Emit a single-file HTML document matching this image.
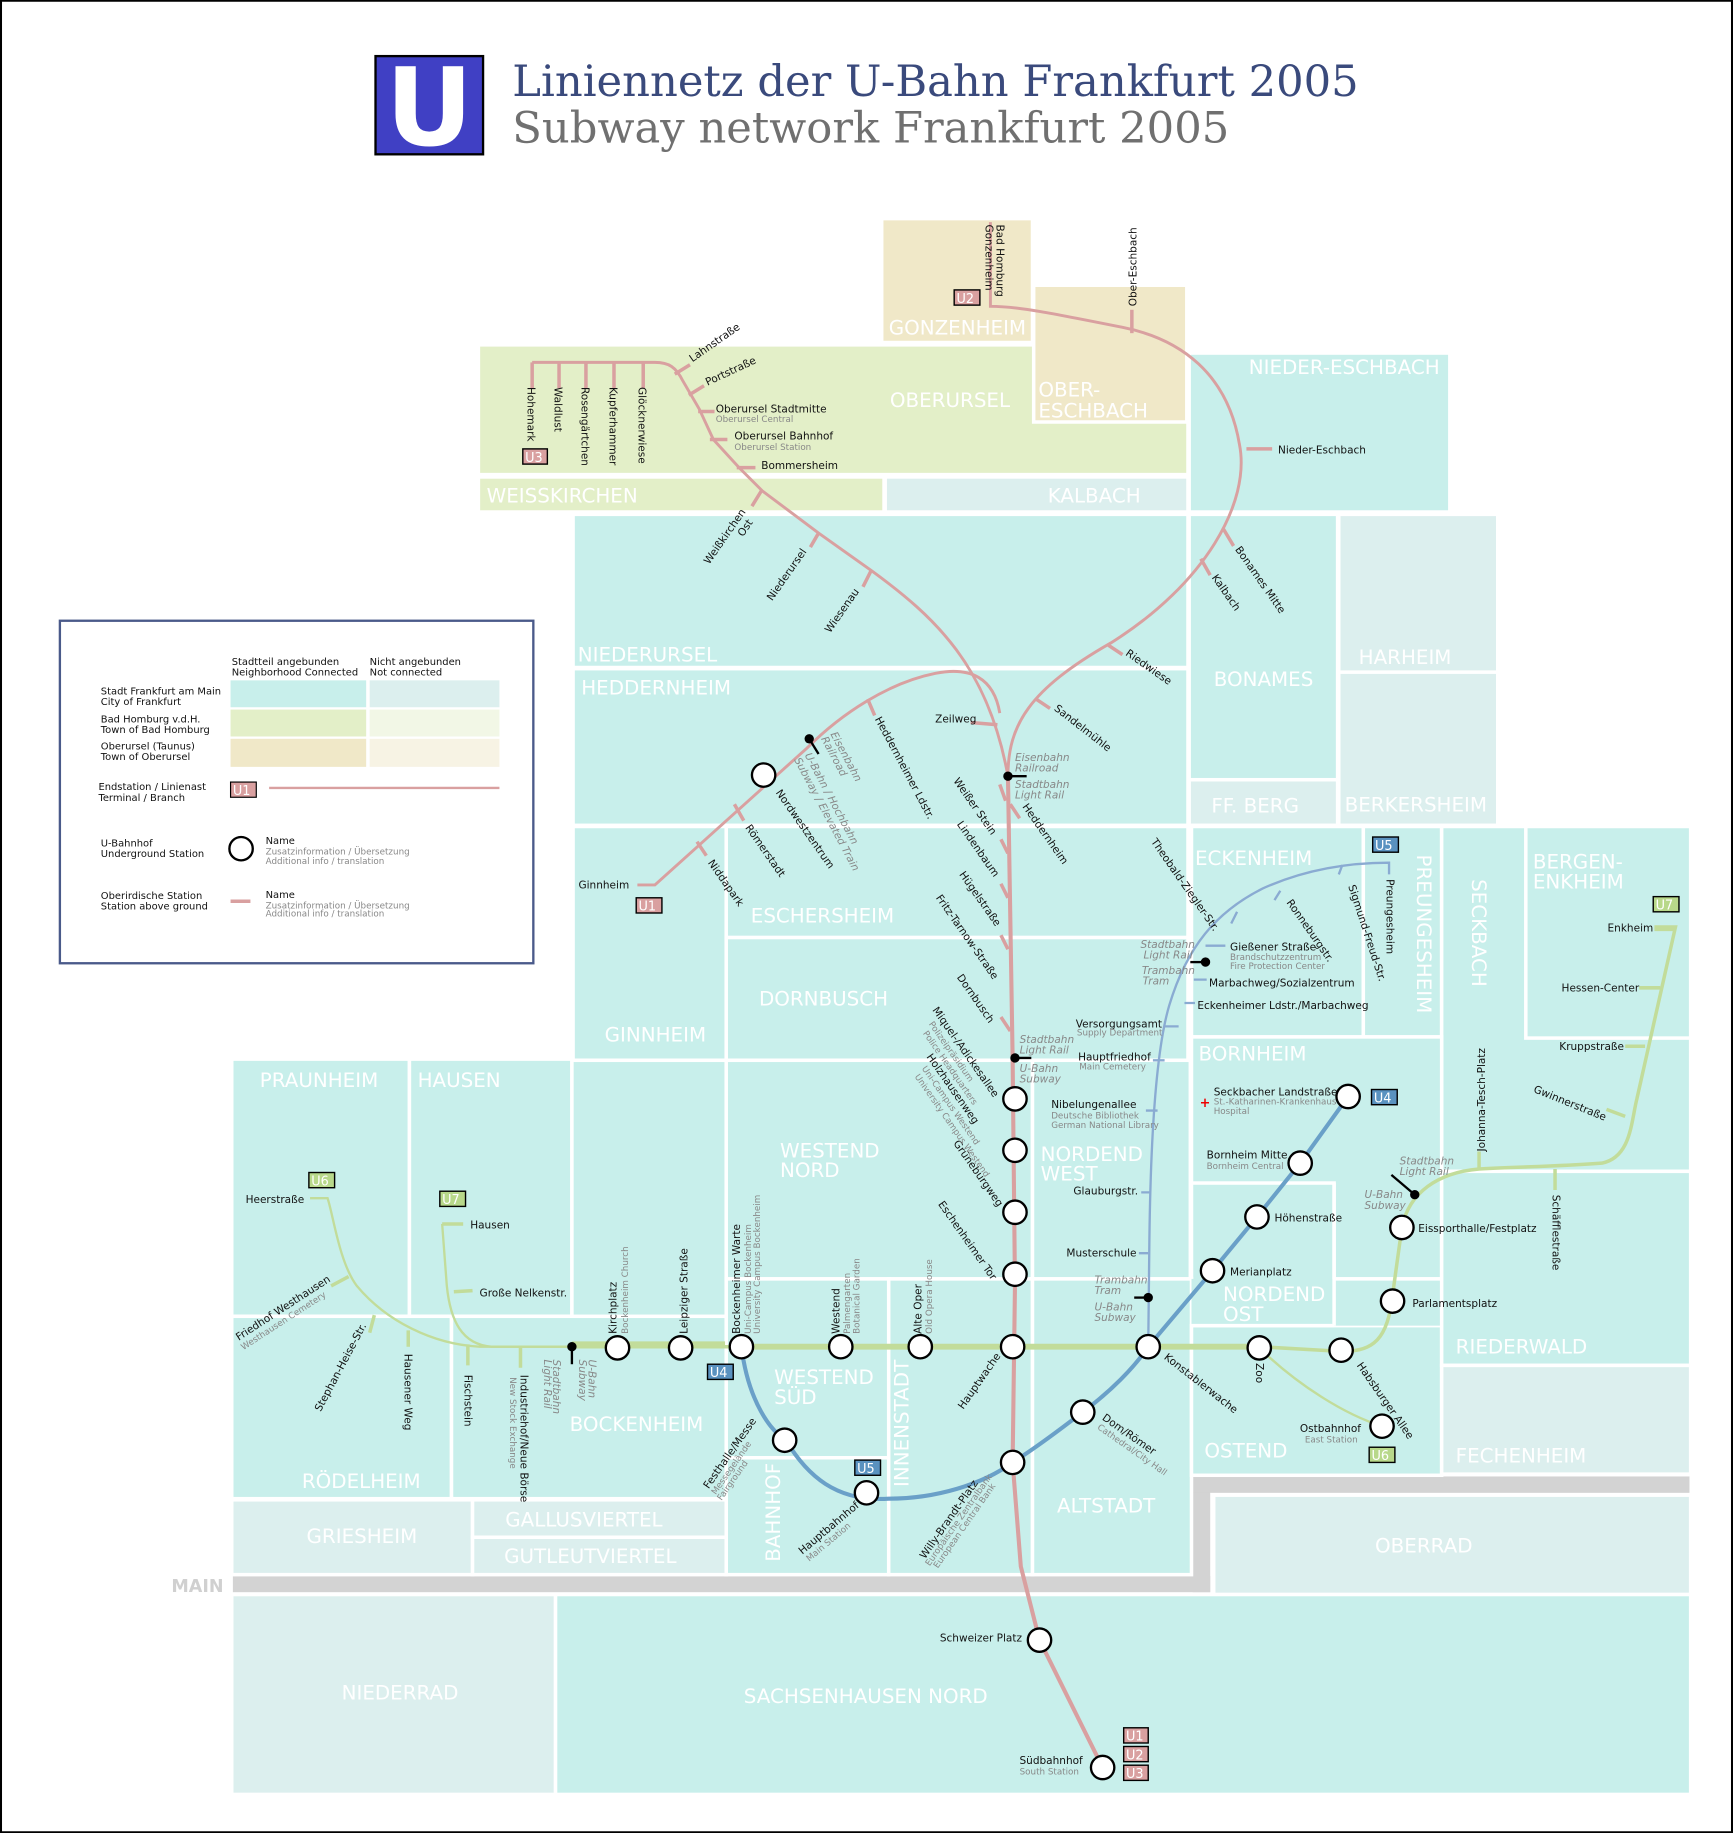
<!DOCTYPE html>
<html><head><meta charset="utf-8"><style>
html,body{margin:0;padding:0;background:#fff}
svg{display:block}
text{font-family:"DejaVu Sans","Liberation Sans",sans-serif}
.d{fill:#fff;font-size:17px}
.l{font-size:9px;fill:#111}
.s{font-size:7.5px;fill:#888}
.i{font-size:9px;fill:#888;font-style:italic}
.c{fill:#c8efeb;stroke:#fff;stroke-width:3}
.n{fill:#dcefee;stroke:#fff;stroke-width:3}
.g{fill:#e3efc8;stroke:#fff;stroke-width:3}
.t{fill:#f0e8c8;stroke:#fff;stroke-width:3}
.st{fill:#fff;stroke:#000;stroke-width:2}
.bt{font-size:11px;fill:#fff}
</style></head><body>
<svg width="1733" height="1833" viewBox="0 0 1482 1568" xmlns="http://www.w3.org/2000/svg">
<rect x="0.5" y="0.5" width="1481" height="1567" fill="#fff" stroke="#000" stroke-width="2"/>
<rect x="321" y="48" width="92" height="84" fill="#4040c4" stroke="#000" stroke-width="2"/>
<text x="367" y="124" text-anchor="middle" style="font-family:'DejaVu Sans',sans-serif;font-weight:bold;font-size:92px;fill:#fff">U</text>
<text x="438" y="82" style="font-family:'DejaVu Serif','Liberation Serif',serif;font-size:37px;fill:#3a4a7c">Liniennetz der U-Bahn Frankfurt 2005</text>
<text x="438" y="122" style="font-family:'DejaVu Serif','Liberation Serif',serif;font-size:37px;fill:#707070">Subway network Frankfurt 2005</text>

<rect x="199" y="1348" width="836" height="14" fill="#d3d3d3"/>
<rect x="1020" y="1263" width="15" height="99" fill="#d3d3d3"/>
<rect x="1020" y="1263" width="425" height="14" fill="#d3d3d3"/>
<text x="191" y="1362" text-anchor="end" style="font-size:15px;font-weight:bold;fill:#d0d0d0">MAIN</text>

<rect class="t" x="754" y="187" width="129" height="106"/>
<rect class="g" x="409" y="295" width="607" height="111"/>
<rect class="t" x="884" y="244" width="131" height="117"/>
<rect class="c" x="1017" y="302" width="223" height="136"/>
<rect class="g" x="409" y="408" width="347" height="30"/>
<rect class="n" x="757" y="408" width="259" height="30"/>
<rect class="c" x="490" y="440" width="526" height="131"/>
<rect class="c" x="1017" y="440" width="127" height="227"/>
<rect class="n" x="1145" y="440" width="136" height="135"/>
<rect class="c" x="490" y="572" width="526" height="134"/>
<rect class="n" x="1017" y="667" width="127" height="39"/>
<rect class="n" x="1145" y="575" width="136" height="131"/>
<rect class="c" x="490" y="707" width="131" height="200"/>
<rect class="c" x="621" y="707" width="395" height="95"/>
<rect class="c" x="621" y="802" width="395" height="105"/>
<rect class="c" x="1019" y="707" width="147" height="180"/>
<rect class="c" x="1166" y="707" width="67" height="180"/>
<rect class="c" x="1233" y="707" width="213" height="295"/>
<rect class="c" x="1305" y="707" width="141" height="181"/>
<rect class="c" x="1019" y="887" width="214" height="207"/>
<rect class="c" x="1019" y="1012" width="122" height="122"/>
<rect class="c" x="198" y="906" width="152" height="220"/>
<rect class="c" x="350" y="906" width="139" height="220"/>
<rect class="c" x="489" y="907" width="132" height="220"/>
<rect class="c" x="621" y="907" width="262" height="187"/>
<rect class="c" x="883" y="907" width="135" height="187"/>
<rect class="c" x="198" y="1126" width="188" height="156"/>
<rect class="c" x="386" y="1126" width="235" height="156"/>
<rect class="c" x="621" y="1094" width="139" height="153"/>
<rect class="c" x="621" y="1247" width="139" height="100"/>
<rect class="c" x="760" y="1094" width="123" height="253"/>
<rect class="c" x="883" y="1094" width="136" height="253"/>
<rect class="c" x="1019" y="1134" width="214" height="128"/>
<rect class="c" x="1019" y="1094" width="214" height="40" style="stroke:none"/>
<rect class="c" x="1233" y="1002" width="213" height="166"/>
<rect class="n" x="1233" y="1168" width="213" height="93"/>
<rect class="n" x="198" y="1283" width="206" height="64"/>
<rect class="n" x="404" y="1283" width="217" height="32"/>
<rect class="n" x="404" y="1315" width="217" height="32"/>
<rect class="n" x="1038" y="1279" width="408" height="85"/>
<rect class="n" x="198" y="1364" width="277" height="171"/>
<rect class="c" x="475" y="1364" width="971" height="171"/>
<line x1="1019" y1="1134" x2="1141" y2="1134" stroke="#fff" stroke-width="3"/>
<line x1="1141" y1="1012" x2="1141" y2="1134" stroke="#fff" stroke-width="3"/>
<line x1="1141" y1="1094" x2="1233" y2="1094" stroke="#fff" stroke-width="3"/>

<text class="d" x="760" y="286">GONZENHEIM</text>
<text class="d" x="761" y="348">OBERURSEL</text>
<text class="d" x="888" y="339">OBER-</text><text class="d" x="888" y="357">ESCHBACH</text>
<text class="d" x="1068" y="320">NIEDER-ESCHBACH</text>
<text class="d" x="416" y="430">WEISSKIRCHEN</text>
<text class="d" x="896" y="430">KALBACH</text>
<text class="d" x="494" y="566">NIEDERURSEL</text>
<text class="d" x="497" y="594">HEDDERNHEIM</text>
<text class="d" x="1038" y="587">BONAMES</text>
<text class="d" x="1162" y="568">HARHEIM</text>
<text class="d" x="1036" y="695">FF. BERG</text>
<text class="d" x="1150" y="694">BERKERSHEIM</text>
<text class="d" x="642" y="789">ESCHERSHEIM</text>
<text class="d" x="649" y="860">DORNBUSCH</text>
<text class="d" x="517" y="891">GINNHEIM</text>
<text class="d" x="1022" y="740">ECKENHEIM</text>
<text class="d" x="1212" y="731" transform="rotate(90 1212 731)">PREUNGESHEIM</text>
<text class="d" x="1259" y="752" transform="rotate(90 1259 752)">SECKBACH</text>
<text class="d" x="1311" y="743">BERGEN-</text><text class="d" x="1311" y="760">ENKHEIM</text>
<text class="d" x="1025" y="907">BORNHEIM</text>
<text class="d" x="222" y="930">PRAUNHEIM</text>
<text class="d" x="357" y="930">HAUSEN</text>
<text class="d" x="667" y="990">WESTEND</text><text class="d" x="667" y="1007">NORD</text>
<text class="d" x="890" y="993">NORDEND</text><text class="d" x="890" y="1010">WEST</text>
<text class="d" x="1046" y="1113">NORDEND</text><text class="d" x="1046" y="1130">OST</text>
<text class="d" x="662" y="1184">WESTEND</text><text class="d" x="662" y="1201">SÜD</text>
<text class="d" x="487" y="1224">BOCKENHEIM</text>
<text class="d" x="258" y="1273">RÖDELHEIM</text>
<text class="d" x="1030" y="1247">OSTEND</text>
<text class="d" x="1245" y="1158">RIEDERWALD</text>
<text class="d" x="1245" y="1251">FECHENHEIM</text>
<text class="d" x="904" y="1294">ALTSTADT</text>
<text class="d" x="777" y="1272" transform="rotate(-90 777 1272)">INNENSTADT</text>
<text class="d" x="667" y="1336" transform="rotate(-90 667 1336)">BAHNHOF</text>
<text class="d" x="262" y="1320">GRIESHEIM</text>
<text class="d" x="432" y="1306">GALLUSVIERTEL</text>
<text class="d" x="431" y="1337">GUTLEUTVIERTEL</text>
<text class="d" x="1176" y="1328">OBERRAD</text>
<text class="d" x="292" y="1454">NIEDERRAD</text>
<text class="d" x="636" y="1457">SACHSENHAUSEN NORD</text>

<rect x="51" y="531" width="405" height="293" fill="#fff" stroke="#4a5a8a" stroke-width="2"/>
<text class="l" x="198" y="569" style="font-size:8.5px">Stadtteil angebunden</text>
<text class="l" x="198" y="578" style="font-size:8.5px">Neighborhood Connected</text>
<text class="l" x="316" y="569" style="font-size:8.5px">Nicht angebunden</text>
<text class="l" x="316" y="578" style="font-size:8.5px">Not connected</text>
<rect x="197" y="582" width="116" height="23" fill="#c8efeb"/><rect x="316" y="582" width="111" height="23" fill="#dcefee"/>
<rect x="197" y="607" width="116" height="23" fill="#e3efc8"/><rect x="316" y="607" width="111" height="23" fill="#f2f7e6"/>
<rect x="197" y="632" width="116" height="24" fill="#f0e8c8"/><rect x="316" y="632" width="111" height="24" fill="#f7f3e4"/>
<g class="l" style="font-size:8.5px">
<text x="86" y="594">Stadt Frankfurt am Main</text><text x="86" y="603">City of Frankfurt</text>
<text x="86" y="618">Bad Homburg v.d.H.</text><text x="86" y="627">Town of Bad Homburg</text>
<text x="86" y="641">Oberursel (Taunus)</text><text x="86" y="650">Town of Oberursel</text>
<text x="84" y="676">Endstation / Linienast</text><text x="84" y="685">Terminal / Branch</text>
<text x="86" y="724">U-Bahnhof</text><text x="86" y="733">Underground Station</text>
<text x="86" y="769">Oberirdische Station</text><text x="86" y="778">Station above ground</text>
<text x="227" y="722">Name</text><text x="227" y="768">Name</text>
</g>
<text class="s" x="227" y="731">Zusatzinformation / Übersetzung</text><text class="s" x="227" y="739">Additional info / translation</text>
<text class="s" x="227" y="777">Zusatzinformation / Übersetzung</text><text class="s" x="227" y="784">Additional info / translation</text>
<rect x="197" y="669" width="22" height="13" fill="#d9a0a0" stroke="#000"/><text class="bt" x="199" y="680">U1</text>
<line x1="230" y1="674" x2="427" y2="674" stroke="#d9a0a0" stroke-width="2"/>
<circle class="st" cx="206" cy="726" r="10"/>
<line x1="197" y1="771" x2="214" y2="771" stroke="#d9a0a0" stroke-width="3"/>

<g fill="none" stroke="#d9a0a0">
<path d="M455,310 L560,310 C572,310 578,314 584,326 L598,350 L610,376 L632,400 L652,420 L700,456 L745,488 C800,528 845,570 862,664" stroke-width="2.5"/>
<path d="M455,310 V332 M478,310 V332 M501,310 V332 M525,310 V332 M550,310 V332" stroke-width="3"/>
<path d="M862,664 C862,620 880,590 950,550 C1030,500 1070,430 1060,380 C1050,320 1010,290 960,280 C900,268 870,262 847,262 V190" stroke-width="2.5"/>
<path d="M968,265 V285" stroke-width="3"/>
<path d="M855,610 C850,580 830,570 800,576 C760,584 720,610 690,640 L560,757 H545" stroke-width="2.5"/>
<path d="M862,664 L866,905 L868,1100 L866,1251 L873,1340 L889,1403 L943,1512" stroke-width="3.5"/>
<path d="M577,320 L590,312 M589,338 L602,330 M597,352 L611,352 M607,376 L622,376 M630,400 L646,400 M651,420 L643,433 M700,456 L693,468 M745,488 L738,502 M1066,384 L1088,384 M1046,452 L1055,467 M1027,478 L1035,492 M948,552 L960,560 M886,598 L898,606 M830,618 L853,620 M742,598 L748,612 M628,688 L636,702 M596,720 L604,732 M864,688 L872,700 M855,671 L860,685 M856,718 L862,730 M856,756 L862,768 M856,800 L862,812 M856,870 L864,882" stroke-width="3"/>
</g>
<g fill="none">
<path d="M634,1152 C640,1200 660,1225 672,1232 C690,1262 715,1285 760,1282 C800,1282 840,1270 866,1251 C890,1236 910,1220 926,1208 C950,1190 970,1170 982,1152 L1037,1087 L1075,1041 L1112,995 L1153,938" stroke="#6aa0c8" stroke-width="3.5"/>
<path d="M982,1152 L983,1060 C984,980 988,900 1000,860 C1015,810 1040,780 1080,760 C1120,742 1160,738 1188,738 V748" stroke="#8aabd2" stroke-width="2"/>
<path d="M1053,790 L1058,780 M1090,770 L1095,762 M1145,748 L1148,740 M1031,809 L1048,809 M1021,838 L1032,838 M1013,858 L1022,858 M996,878 L1008,878 M986,907 L996,907 M980,950 L990,950 M976,1020 L984,1020 M974,1072 L982,1072" stroke="#8aabd2" stroke-width="2"/>
</g>
<g fill="none" stroke="#c2dc9a">
<path d="M489,1152 L1077,1152 L1147,1156 C1170,1156 1185,1150 1190,1115 L1199,1050 C1205,1020 1230,1003 1265,1000 C1300,998 1330,998 1370,995 C1395,990 1395,960 1400,940 L1433,793 H1415" stroke-width="3"/>
<path d="M489,1152 H420 C395,1150 385,1130 382,1100 L378,1047" stroke-width="2"/>
<path d="M489,1152 H410 C370,1150 330,1130 305,1100 C290,1080 285,1040 280,1025 H265" stroke-width="2"/>
<path d="M1077,1153 C1110,1185 1150,1210 1182,1220" stroke-width="2"/>
<path d="M489,1150 H620" stroke-width="5"/>
<path d="M634,1152 H1077" stroke-width="5"/>
<path d="M378,1047 H396 M388,1105 L404,1104 M283,1100 L298,1092 M320,1125 L316,1140 M349,1138 V1152 M400,1150 V1168 M445,1152 V1170 M1265,985 V1001 M1330,1000 V1018 M1374,949 L1390,955 M1390,895 H1407 M1402,845 H1420 M1415,795 H1433" stroke-width="3"/>
</g>
<g stroke="#000" stroke-width="2">
<line x1="692" y1="632" x2="700" y2="645"/><line x1="862" y1="664" x2="878" y2="664"/><line x1="868" y1="905" x2="882" y2="905"/>
<line x1="1031" y1="823" x2="1018" y2="823"/><line x1="982" y1="1110" x2="970" y2="1110"/><line x1="1210" y1="1022" x2="1190" y2="1005"/><line x1="489" y1="1152" x2="489" y2="1167"/>
</g>
<g fill="#000"><circle cx="692" cy="632" r="4"/><circle cx="862" cy="664" r="4"/><circle cx="868" cy="905" r="4"/><circle cx="1031" cy="823" r="4"/><circle cx="982" cy="1110" r="4"/><circle cx="1210" cy="1022" r="4"/><circle cx="489" cy="1152" r="4"/></g>

<g class="st">
<circle cx="653" cy="663" r="10"/>
<circle cx="868" cy="940" r="10"/><circle cx="868" cy="984" r="10"/><circle cx="868" cy="1037" r="10"/><circle cx="868" cy="1090" r="10"/>
<circle cx="866" cy="1152" r="10"/><circle cx="866" cy="1251" r="10"/><circle cx="889" cy="1403" r="10"/><circle cx="943" cy="1512" r="10"/>
<circle cx="528" cy="1153" r="10"/><circle cx="582" cy="1153" r="10"/><circle cx="634" cy="1152" r="10"/><circle cx="719" cy="1152" r="10"/><circle cx="787" cy="1152" r="10"/>
<circle cx="982" cy="1152" r="10"/><circle cx="1077" cy="1153" r="10"/><circle cx="1147" cy="1155" r="10"/><circle cx="1182" cy="1220" r="10"/>
<circle cx="671" cy="1232" r="10"/><circle cx="741" cy="1277" r="10"/><circle cx="926" cy="1208" r="10"/>
<circle cx="1037" cy="1087" r="10"/><circle cx="1075" cy="1041" r="10"/><circle cx="1112" cy="995" r="10"/><circle cx="1153" cy="938" r="10"/>
<circle cx="1191" cy="1113" r="10"/><circle cx="1199" cy="1050" r="10"/>
</g>

<g stroke="#000" stroke-width="1.2">
<rect x="816" y="248" width="22" height="13" fill="#d9a0a0"/><rect x="447" y="384" width="21" height="13" fill="#d9a0a0"/>
<rect x="544" y="768" width="22" height="13" fill="#d9a0a0"/>
<rect x="961" y="1478" width="21" height="13" fill="#d9a0a0"/><rect x="961" y="1494" width="21" height="13" fill="#d9a0a0"/><rect x="961" y="1510" width="21" height="13" fill="#d9a0a0"/>
<rect x="1174" y="716" width="22" height="13" fill="#5a92c0"/><rect x="1173" y="932" width="22" height="13" fill="#5a92c0"/>
<rect x="605" y="1167" width="22" height="13" fill="#5a92c0"/><rect x="731" y="1249" width="22" height="13" fill="#5a92c0"/>
<rect x="1414" y="767" width="22" height="13" fill="#b8d88a"/><rect x="1171" y="1238" width="22" height="13" fill="#b8d88a"/>
<rect x="264" y="1003" width="22" height="13" fill="#b8d88a"/><rect x="376" y="1019" width="22" height="13" fill="#b8d88a"/>
</g>
<g class="bt">
<text x="818" y="259">U2</text><text x="449" y="395">U3</text><text x="546" y="779">U1</text>
<text x="963" y="1489">U1</text><text x="963" y="1505">U2</text><text x="963" y="1521">U3</text>
<text x="1176" y="727">U5</text><text x="1175" y="943">U4</text><text x="607" y="1178">U4</text><text x="733" y="1260">U5</text>
<text x="1416" y="778">U7</text><text x="1173" y="1249">U6</text><text x="266" y="1014">U6</text><text x="378" y="1030">U7</text>
</g>

<g class="l">
<text transform="translate(852,192) rotate(90)">Bad Homburg</text><text transform="translate(843,192) rotate(90)">Gonzenheim</text>
<text transform="translate(972,262) rotate(-90)">Ober-Eschbach</text>
<text transform="translate(451,331) rotate(90)">Hohemark</text>
<text transform="translate(474,331) rotate(90)">Waldlust</text>
<text transform="translate(497,331) rotate(90)">Rosengärtchen</text>
<text transform="translate(521,331) rotate(90)">Kupferhammer</text>
<text transform="translate(546,331) rotate(90)">Glöcknerwiese</text>
<text transform="translate(592,310) rotate(-35)">Lahnstraße</text>
<text transform="translate(605,330) rotate(-25)">Portstraße</text>
<text x="612" y="353">Oberursel Stadtmitte</text>
<text x="628" y="376">Oberursel Bahnhof</text>
<text x="651" y="401">Bommersheim</text>
<text transform="translate(638,438) rotate(-55)" text-anchor="end">Weißkirchen</text>
<text transform="translate(644,447) rotate(-55)" text-anchor="end">Ost</text>
<text transform="translate(690,472) rotate(-55)" text-anchor="end">Niederursel</text>
<text transform="translate(735,506) rotate(-55)" text-anchor="end">Wiesenau</text>
<text x="1093" y="388">Nieder-Eschbach</text>
<text transform="translate(1056,470) rotate(55)">Bonames Mitte</text>
<text transform="translate(1036,494) rotate(55)">Kalbach</text>
<text transform="translate(962,560) rotate(35)">Riedwiese</text>
<text transform="translate(901,607) rotate(38)">Sandelmühle</text>
<text x="835" y="618" text-anchor="end">Zeilweg</text>
<text transform="translate(748,615) rotate(62)">Heddernheimer Ldstr.</text>
<text transform="translate(874,690) rotate(55)">Heddernheim</text>
<text transform="translate(815,668) rotate(55)">Weißer Stein</text>
<text transform="translate(818,705) rotate(55)">Lindenbaum</text>
<text transform="translate(820,748) rotate(55)">Hügelstraße</text>
<text transform="translate(800,768) rotate(55)">Fritz-Tarnow-Straße</text>
<text transform="translate(818,836) rotate(55)">Dornbusch</text>
<text transform="translate(797,864) rotate(55)">Miquel-/Adickesallee</text>
<text transform="translate(792,904) rotate(55)">Holzhausenweg</text>
<text transform="translate(815,978) rotate(55)">Grüneburgweg</text>
<text transform="translate(802,1030) rotate(55)">Eschenheimer Tor</text>
<text transform="translate(856,1160) rotate(-55)" text-anchor="end">Hauptwache</text>
<text transform="translate(663,678) rotate(55)">Nordwestzentrum</text>
<text transform="translate(637,708) rotate(55)">Römerstadt</text>
<text transform="translate(605,738) rotate(55)">Niddapark</text>
<text x="538" y="760" text-anchor="end">Ginnheim</text>
<text x="920" y="879">Versorgungsamt</text>
<text x="922" y="907">Hauptfriedhof</text>
<text x="899" y="948">Nibelungenallee</text>
<text x="918" y="1022">Glauburgstr.</text>
<text x="912" y="1075">Musterschule</text>
<text transform="translate(984,720) rotate(55)">Theobald-Ziegler-Str.</text>
<text transform="translate(1100,772) rotate(55)">Ronneburgstr.</text>
<text transform="translate(1153,758) rotate(72)">Sigmund-Freud-Str.</text>
<text transform="translate(1186,752) rotate(90)">Preungesheim</text>
<text x="1052" y="813">Gießener Straße</text>
<text x="1034" y="844">Marbachweg/Sozialzentrum</text>
<text x="1024" y="863">Eckenheimer Ldstr./Marbachweg</text>
<text x="1414" y="797" text-anchor="end">Enkheim</text>
<text x="1402" y="848" text-anchor="end">Hessen-Center</text>
<text x="1389" y="898" text-anchor="end">Kruppstraße</text>
<text transform="translate(1311,934) rotate(22)">Gwinnerstraße</text>
<text transform="translate(1270,985) rotate(-90)">Johanna-Tesch-Platz</text>
<text transform="translate(1328,1022) rotate(90)">Schäfflestraße</text>
<text x="1038" y="937">Seckbacher Landstraße</text>
<text x="1032" y="991">Bornheim Mitte</text>
<text x="1090" y="1045">Höhenstraße</text>
<text x="1052" y="1091">Merianplatz</text>
<text x="1213" y="1054">Eissporthalle/Festplatz</text>
<text x="1208" y="1118">Parlamentsplatz</text>
<text transform="translate(995,1162) rotate(38)">Konstablerwache</text>
<text transform="translate(1074,1166) rotate(90)">Zoo</text>
<text transform="translate(1160,1168) rotate(55)">Habsburger Allee</text>
<text x="1164" y="1225" text-anchor="end">Ostbahnhof</text>
<text transform="translate(942,1214) rotate(35)">Dom/Römer</text>
<text transform="translate(791,1334) rotate(-55)">Willy-Brandt-Platz</text>
<text transform="translate(686,1330) rotate(-40)">Hauptbahnhof</text>
<text transform="translate(606,1274) rotate(-55)">Festhalle/Messe</text>
<text transform="translate(527,1141) rotate(-90)">Kirchplatz</text>
<text transform="translate(588,1141) rotate(-90)">Leipziger Straße</text>
<text transform="translate(633,1141) rotate(-90)">Bockenheimer Warte</text>
<text transform="translate(718,1141) rotate(-90)">Westend</text>
<text transform="translate(788,1141) rotate(-90)">Alte Oper</text>
<text transform="translate(445,1176) rotate(90)">Industriehof/Neue Börse</text>
<text transform="translate(397,1176) rotate(90)">Fischstein</text>
<text transform="translate(346,1158) rotate(90)">Hausener Weg</text>
<text transform="translate(274,1208) rotate(-62)">Stephan-Heise-Str.</text>
<text transform="translate(204,1147) rotate(-33)">Friedhof Westhausen</text>
<text x="410" y="1109">Große Nelkenstr.</text>
<text x="402" y="1051">Hausen</text>
<text x="260" y="1029" text-anchor="end">Heerstraße</text>
<text x="874" y="1404" text-anchor="end">Schweizer Platz</text>
<text x="926" y="1509" text-anchor="end">Südbahnhof</text>
</g>
<g class="s">
<text x="612" y="361">Oberursel Central</text>
<text x="628" y="385">Oberursel Station</text>
<text x="921" y="886">Supply Department</text>
<text x="923" y="915">Main Cemetery</text>
<text x="899" y="957">Deutsche Bibliothek</text><text x="899" y="965">German National Library</text>
<text x="1052" y="821">Brandschutzzentrum</text><text x="1052" y="829">Fire Protection Center</text>
<text x="1038" y="945">St.-Katharinen-Krankenhaus</text><text x="1038" y="953">Hospital</text>
<text x="1032" y="1000">Bornheim Central</text>
<text x="1116" y="1234">East Station</text>
<text x="872" y="1518">South Station</text>
<text transform="translate(938,1222) rotate(35)">Cathedral/City Hall</text>
<text transform="translate(795,1340) rotate(-55)">Europäische Zentralbank</text>
<text transform="translate(802,1342) rotate(-55)">European Central Bank</text>
<text transform="translate(692,1336) rotate(-40)">Main Station</text>
<text transform="translate(612,1279) rotate(-55)">Messegelände</text>
<text transform="translate(617,1284) rotate(-55)">Fairground</text>
<text transform="translate(537,1141) rotate(-90)">Bockenheim Church</text>
<text transform="translate(642,1141) rotate(-90)">Uni-Campus Bockenheim</text>
<text transform="translate(650,1141) rotate(-90)">University Campus Bockenheim</text>
<text transform="translate(727,1141) rotate(-90)">Palmengarten</text>
<text transform="translate(735,1141) rotate(-90)">Botanical Garden</text>
<text transform="translate(797,1141) rotate(-90)">Old Opera House</text>
<text transform="translate(436,1178) rotate(90)">New Stock Exchange</text>
<text transform="translate(208,1155) rotate(-33)">Westhausen Cemetery</text>
<text transform="translate(794,876) rotate(55)">Polizeipräsidium</text>
<text transform="translate(789,884) rotate(55)">Police Headquarters</text>
<text transform="translate(788,914) rotate(55)">Uni-Campus Westend</text>
<text transform="translate(782,921) rotate(55)">University Campus Westend</text>
</g>
<text x="1026" y="947" style="fill:#e00;font-size:11px;font-weight:bold">+</text>
<g class="i">
<text transform="translate(710,628) rotate(62)">Eisenbahn</text><text transform="translate(702,632) rotate(62)">Railroad</text>
<text transform="translate(688,646) rotate(62)">U-Bahn / Hochbahn</text><text transform="translate(679,650) rotate(62)">Subway / Elevated Train</text>
<text x="868" y="651">Eisenbahn</text><text x="868" y="660">Railroad</text>
<text x="868" y="674">Stadtbahn</text><text x="868" y="683">Light Rail</text>
<text x="872" y="892">Stadtbahn</text><text x="872" y="901">Light Rail</text>
<text x="872" y="917">U-Bahn</text><text x="872" y="926">Subway</text>
<text x="1022" y="811" text-anchor="end">Stadtbahn</text><text x="1020" y="820" text-anchor="end">Light Rail</text>
<text x="1022" y="833" text-anchor="end">Trambahn</text><text x="1000" y="842" text-anchor="end">Tram</text>
<text x="936" y="1098">Trambahn</text><text x="936" y="1107">Tram</text>
<text x="936" y="1121">U-Bahn</text><text x="936" y="1130">Subway</text>
<text x="1197" y="996">Stadtbahn</text><text x="1197" y="1005">Light Rail</text>
<text x="1167" y="1025">U-Bahn</text><text x="1167" y="1034">Subway</text>
<text transform="translate(473,1163) rotate(90)">Stadtbahn</text><text transform="translate(465,1163) rotate(90)">Light Rail</text>
<text transform="translate(503,1163) rotate(90)">U-Bahn</text><text transform="translate(495,1163) rotate(90)">Subway</text>
</g>
</svg>
</body></html>
